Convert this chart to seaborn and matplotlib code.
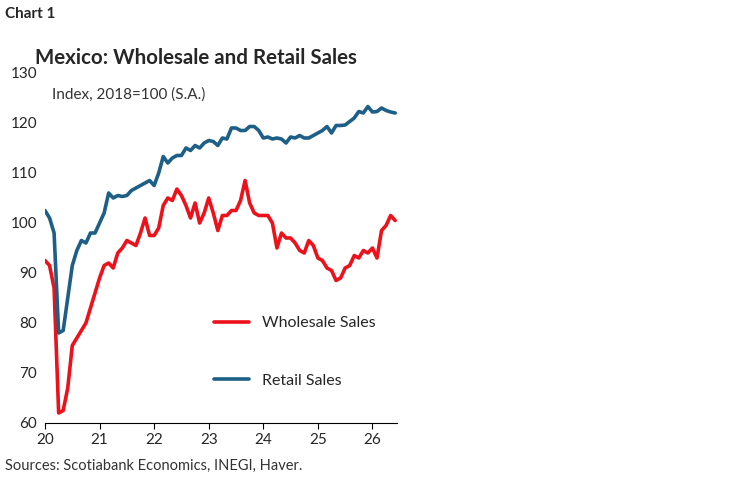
import numpy as np
import pandas as pd
import matplotlib
matplotlib.use("Agg")
import matplotlib.pyplot as plt
import seaborn as sns

retail = [102.5, 101, 98, 78, 78.5, 85, 91.5, 94.5, 96.5, 96, 98, 98,
          100, 102, 106, 105, 105.5, 105.3, 105.5, 106.5, 107, 107.5, 108, 108.5,
          107.5, 110, 113.3, 112, 113, 113.5, 113.5, 115, 114.5, 115.5, 115, 116,
          116.5, 116.3, 115.5, 117, 116.8, 119, 119, 118.5, 118.5, 119.3, 119.3, 118.5,
          117, 117.2, 116.8, 117, 116.8, 116, 117.2, 117, 117.5, 117, 117, 117.5,
          118, 118.5, 119.3, 118, 119.5, 119.5, 119.6, 120.3, 121, 122.3, 122, 123.3,
          122.2, 122.3, 123, 122.5, 122.2, 122]
wholesale = [92.5, 91.5, 87, 62, 62.5, 67, 75.5, 77, 78.5, 80, 83, 86,
             89, 91.5, 92, 91, 94, 95, 96.5, 96, 95.5, 98, 101, 97.5,
             97.5, 99, 103.5, 105, 104.5, 106.8, 105.5, 103.5, 101, 104, 100, 102,
             105, 102, 98.5, 101.5, 101.5, 102.5, 102.5, 104.5, 108.5, 104, 102, 101.5,
             101.5, 101.5, 100, 95, 98, 97, 97, 96, 94.5, 94, 96.5, 95.5,
             93, 92.5, 91, 90.5, 88.5, 89, 91, 91.5, 93.5, 93, 94.5, 94,
             95, 93, 98.5, 99.5, 101.5, 100.5]
years = [20, 21, 22, 23, 24, 25, 26]

t = 20 + np.arange(len(retail)) / 12
df = pd.DataFrame({"t": np.concatenate([t, t]),
                   "value": wholesale + retail,
                   "series": ["Wholesale Sales"] * len(t) + ["Retail Sales"] * len(t)})

sns.set_style("white")
plt.rcParams["font.family"] = ["Lato", "DejaVu Sans"]

fig = plt.figure(figsize=(7.48, 4.83), dpi=100)
ax = fig.add_axes([45 / 748, 60 / 483, 352 / 748, 350 / 483])
sns.lineplot(data=df, x="t", y="value", hue="series", ax=ax, linewidth=2.6,
             palette={"Wholesale Sales": "#ec111a", "Retail Sales": "#1d5f86"})
ax.set_xlim(20, 26.45)
ax.set_ylim(60, 130)
ax.set_xticks(years)
ax.set_xticklabels([str(y) for y in years])
ax.set_yticks(range(60, 131, 10))
ax.set_xlabel("")
ax.set_ylabel("")
for s in ["top", "right", "left"]:
    ax.spines[s].set_visible(False)
ax.spines["bottom"].set_color("black")
ax.tick_params(axis="x", bottom=True, length=4, color="black", labelsize=11)
ax.tick_params(axis="y", labelsize=11, pad=2)
ax.text(0.02, 0.96, "Index, 2018=100 (S.A.)", transform=ax.transAxes, fontsize=11,
        va="top", color="#333333")
leg = ax.legend(loc="lower left", bbox_to_anchor=(0.44, 0.06), frameon=False,
                fontsize=11.5, handlelength=2.2, labelspacing=2.7)

fig.text(5 / 748, 1 - 18 / 483, "Chart 1", fontsize=11, fontweight="bold")
fig.text(35 / 748, 1 - 64 / 483, "Mexico: Wholesale and Retail Sales", fontsize=14.8,
         fontweight="bold")
fig.text(5 / 748, 1 - 470 / 483, "Sources: Scotiabank Economics, INEGI, Haver.",
         fontsize=10.5, color="#333333")
fig.savefig("out.png", dpi=100)
